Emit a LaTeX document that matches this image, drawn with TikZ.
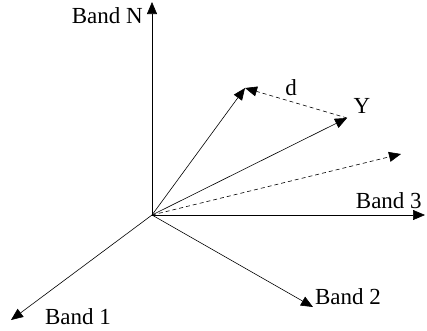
\documentclass[tikz,border=0pt]{standalone}
\usepackage{fontspec}
\setmainfont{Liberation Serif}
\usetikzlibrary{arrows.meta}
\begin{document}
\begin{tikzpicture}[
    x=1pt, y=-1pt,
    semithick,
    vec/.style={-{Triangle[length=12pt,width=10pt]}},
    dvec/.style={vec, dash pattern=on 4pt off 3pt},
    every node/.style={font=\fontsize{23}{26}\selectfont, inner sep=0pt}
]

    \useasboundingbox (0,0) rectangle (427,330);

    % Define coordinates
    \coordinate (O) at (152,215);     % origin
    \coordinate (N) at (152,2);       % Band N
    \coordinate (B3) at (425,215);    % Band 3
    \coordinate (B1) at (11,320);     % Band 1
    \coordinate (B2) at (313,307);    % Band 2
    \coordinate (X) at (245,88);      % first vector
    \coordinate (Y) at (347,118);     % vector Y
    \coordinate (P) at (401,154);     % projection

    % Draw the axes
    \draw[vec] (O) -- (N);
    \draw[vec] (O) -- (B3);
    \draw[vec] (O) -- (B1);
    \draw[vec] (O) -- (B2);

    % Draw the vectors
    \draw[vec] (O) -- (X);
    \draw[vec] (O) -- (Y);
    \draw[dvec] (O) -- (P);
    \draw[dvec] (Y) -- (X);

    % Draw labels
    \node[anchor=east] (lN) at (143,16) {Band N};
    \node[anchor=east] (l3) at (422,201) {Band 3};
    \node (l1) at (78,317) {Band 1};
    \node (l2) at (348,297) {Band 2};
    \node (ld) at (291,88) {d};
    \node (lY) at (362,106) {Y};

\end{tikzpicture}
\end{document}
